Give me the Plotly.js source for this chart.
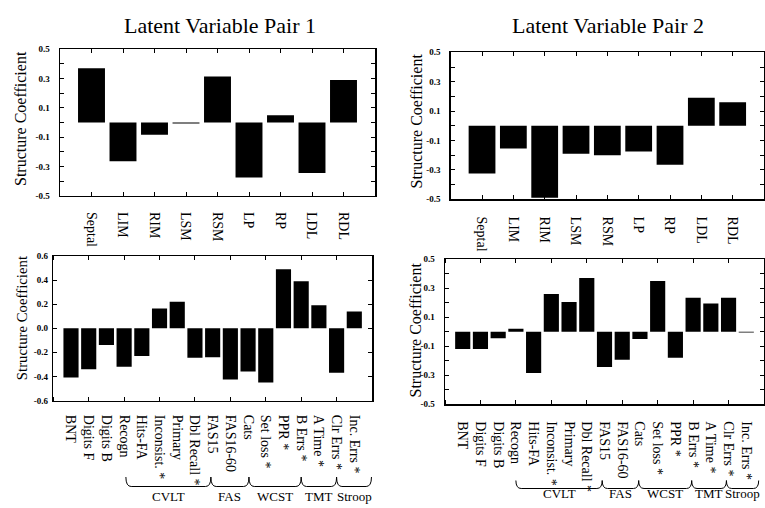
<!DOCTYPE html>
<html>
<head>
<meta charset="utf-8">
<script src="https://cdn.plot.ly/plotly-3.0.1.min.js"></script>
<style>html,body{margin:0;padding:0;background:#fff;}#chart{width:765px;height:508px;}</style>
</head>
<body>
<div id="chart"></div>
<script>
// ---- data ----
const regionLabels = ['Septal','LIM','RIM','LSM','RSM','LP','RP','LDL','RDL'];
const pair1Region = [0.37,-0.265,-0.083,-0.006,0.315,-0.375,0.05,-0.345,0.29];
const pair2Region = [-0.325,-0.155,-0.49,-0.19,-0.2,-0.175,-0.265,0.19,0.16];

const testLabels = ['BNT','Digits F','Digits B','Recogn','Hits-FA','Inconsist. *','Primary','Dbl Recall *',
  'FAS15','FAS16-60','Cats','Set loss *','PPR *','B Errs *','A Time *','Clr Errs *','Inc. Errs *'];
const pair1Tests = [-0.41,-0.34,-0.14,-0.32,-0.23,0.165,0.22,-0.245,-0.24,-0.425,-0.36,-0.45,0.49,0.39,0.19,-0.37,0.14];
const pair2Tests = [-0.12,-0.12,-0.045,0.02,-0.285,0.26,0.205,0.37,-0.245,-0.195,-0.05,0.35,-0.18,0.235,0.195,0.235,-0.006];

const groupNames = ['CVLT','FAS','WCST','TMT','Stroop'];

const yTicksA = [-0.5,-0.4,-0.3,-0.2,-0.1,0,0.1,0.2,0.3,0.4,0.5];
const yTextA  = ['-0.5','','-0.3','','-0.1','','0.1','','0.3','','0.5'];
const yTicksB = [-0.6,-0.4,-0.2,0,0.2,0.4,0.6];
const yTextB  = ['-0.6','-0.4','-0.2','0.0','0.2','0.4','0.6'];

const titles = ['Latent Variable Pair 1','Latent Variable Pair 2'];
const yTitle = 'Structure Coefficient';

// ---- build ----
const FONT = 'Liberation Serif';
const W = 765, H = 508;
const px = v => v / W;
const py = v => 1 - v / H;
const idx = arr => arr.map((_, i) => i);

function bar(x, y, xa, ya) {
  return {type:'bar', x:x, y:y, xaxis:xa, yaxis:ya, marker:{color:'#000', line:{width:0}},
          hoverinfo:'skip', showlegend:false};
}

const data = [
  bar(idx(regionLabels), pair1Region, 'x', 'y'),
  bar(idx(regionLabels), pair2Region, 'x2', 'y2'),
  bar(idx(testLabels), pair1Tests, 'x3', 'y3'),
  bar(idx(testLabels), pair2Tests, 'x4', 'y4')
];

function xAxis(labels, dom, anchor, sparse, standoff) {
  const a = {
    domain: dom, anchor: anchor, range: [-1, labels.length],
    tickmode: 'array', tickvals: idx(labels), ticktext: labels, tickangle: 90,
    tickfont: {family: FONT, size: 14, color: '#000'},
    showline: true, linecolor: '#000', linewidth: 1.5, mirror: 'ticks',
    ticks: sparse ? '' : 'inside', ticklen: 4, tickwidth: 1, tickcolor: '#000',
    showgrid: false, zeroline: false, fixedrange: true, ticklabelstandoff: standoff
  };
  if (sparse) {
    a.minor = {ticks: 'inside', tick0: 1, dtick: 2, ticklen: 4, tickwidth: 1, tickcolor: '#000', showgrid: false};
  }
  return a;
}
function yAxis(dom, anchor, rng, tv, tt, standoff) {
  return {
    domain: dom, anchor: anchor, range: rng,
    tickmode: 'array', tickvals: tv, ticktext: tt,
    tickfont: {family: FONT, size: 9, color: '#000', weight: 'bold'},
    showline: true, linecolor: '#000', linewidth: 1.5, mirror: 'ticks',
    ticks: 'inside', ticklen: 4, tickwidth: 1, tickcolor: '#000',
    showgrid: false, zeroline: false, fixedrange: true, ticklabelstandoff: standoff
  };
}

const layout = {
  width: W, height: H, margin: {l:0, r:0, t:0, b:0},
  paper_bgcolor: '#fff', plot_bgcolor: '#fff',
  font: {family: FONT, color: '#000'},
  bargap: 0.145, showlegend: false,
  xaxis:  xAxis(regionLabels, [px(60), px(375)], 'y', false, 12),
  yaxis:  yAxis([py(195.7), py(49.3)], 'x', [-0.5, 0.5], yTicksA, yTextA, 7),
  xaxis2: xAxis(regionLabels, [px(450.7), px(764)], 'y2', false, 13),
  yaxis2: yAxis([py(199.3), py(52.3)], 'x2', [-0.5, 0.5], yTicksA, yTextA, 7),
  xaxis3: xAxis(testLabels, [px(53.3), px(372)], 'y3', true, 10),
  yaxis3: yAxis([py(400.5), py(256)], 'x3', [-0.6, 0.6], yTicksB, yTextB, 2),
  xaxis4: xAxis(testLabels, [px(445), px(764)], 'y4', true, 13),
  yaxis4: yAxis([py(404), py(259.3)], 'x4', [-0.5, 0.5], yTicksA, yTextA, 7),
  annotations: [],
  shapes: []
};

// panel titles
[[titles[0], 219.7, 25], [titles[1], 608, 25.3]].forEach(([t, x, y]) => {
  layout.annotations.push({text: t, xref:'paper', yref:'paper', x: px(x), y: py(y),
    xanchor:'center', yanchor:'middle', showarrow:false, font:{family:FONT, size:22, color:'#000'}});
});
// y titles
[[20, 119, 16], [416.7, 120.8, 16], [21.7, 317.5, 14.8], [414.5, 330, 16]].forEach(([x, y, s]) => {
  layout.annotations.push({text: yTitle, xref:'paper', yref:'paper', x: px(x), y: py(y), textangle: -90,
    xanchor:'center', yanchor:'middle', showarrow:false, font:{family:FONT, size:s, color:'#000'}});
});

// group brackets
function brackets(xref, edges, yLine, yTop, yLab, r) {
  for (let k = 0; k < groupNames.length; k++) {
    const a = edges[k], b = edges[k + 1];
    const yl = py(yLine), yt = py(yTop);
    layout.shapes.push({type:'path', xref: xref, yref:'paper',
      path: `M ${a},${yt} Q ${a},${yl} ${a + r},${yl} L ${b - r},${yl} Q ${b},${yl} ${b},${yt}`,
      line: {color:'#000', width:1}});
    layout.annotations.push({text: groupNames[k], xref: xref, yref:'paper', x: (a + b) / 2, y: py(yLab),
      xanchor:'center', yanchor:'middle', showarrow:false, font:{family:FONT, size:13, color:'#000'}});
  }
}
brackets('x3', [3.1, 7.9, 10.05, 13.0, 15.0, 16.97], 486.5, 477, 496.7, 0.3);
brackets('x4', [3.0, 7.87, 9.93, 12.92, 14.88, 16.7], 488.5, 480.5, 493.5, 0.3);

Plotly.newPlot('chart', data, layout, {displayModeBar: false, staticPlot: true});
</script>
</body>
</html>
